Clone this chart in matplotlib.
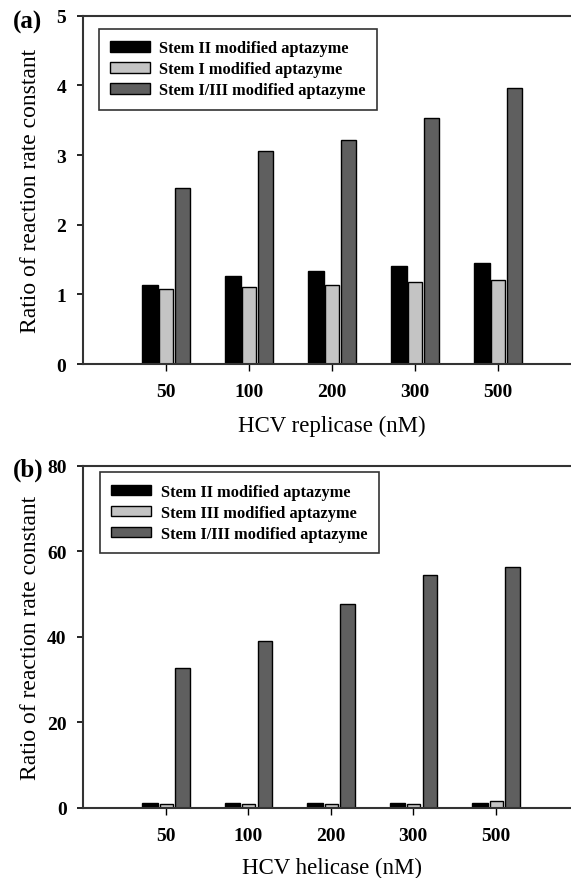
import matplotlib
matplotlib.use("Agg")
import matplotlib.pyplot as plt
import numpy as np

plt.rcParams['font.family'] = ['Liberation Serif', 'DejaVu Serif']

categories = ['50', '100', '200', '300', '500']

# Panel (a): HCV replicase
a_stem2 = [1.13, 1.26, 1.34, 1.41, 1.45]
a_stem1 = [1.07, 1.11, 1.13, 1.18, 1.21]
a_stem13 = [2.53, 3.06, 3.21, 3.53, 3.96]
a_labels = ['Stem II modified aptazyme', 'Stem I modified aptazyme', 'Stem I/III modified aptazyme']

# Panel (b): HCV helicase
b_stem2 = [1.15, 1.15, 1.15, 1.15, 1.15]
b_stem3 = [1.05, 1.05, 1.05, 1.05, 1.55]
b_stem13 = [32.6, 38.9, 47.6, 54.5, 56.3]
b_labels = ['Stem II modified aptazyme', 'Stem III modified aptazyme', 'Stem I/III modified aptazyme']

colors = ['#000000', '#c4c4c4', '#5f5f5f']
offsets = [-0.19, 0.005, 0.205]
widths = [0.19, 0.16, 0.175]

W, H = 571, 879
fig = plt.figure(figsize=(W / 100, H / 100), dpi=100)


def px(x0, y0, x1, y1):
    return [x0 / W, 1 - y1 / H, (x1 - x0) / W, (y1 - y0) / H]


def panel(rect, series, labels, ylim, yticks, xlabel, letter, ylab_center, xlab_base, leg_xy):
    ax = fig.add_axes(rect)
    x = np.arange(len(categories))
    for vals, c, off, w, lab in zip(series, colors, offsets, widths, labels):
        ax.bar(x + off, vals, width=w, color=c, edgecolor='black', linewidth=1.0, label=lab, zorder=2)
    ax.set_xlim(-1, 5)
    ax.set_ylim(*ylim)
    ax.set_yticks(yticks)
    ax.set_xticks(x)
    ax.set_xticklabels(categories)
    for lbl in ax.get_xticklabels() + ax.get_yticklabels():
        lbl.set_fontweight('bold')
        lbl.set_fontsize(14)
    ax.tick_params(axis='y', direction='out', length=4, width=1.2, pad=8)
    ax.tick_params(axis='x', direction='out', length=5, width=1.0, pad=9)
    ax.spines['right'].set_visible(False)
    for s in ['left', 'bottom', 'top']:
        ax.spines[s].set_linewidth(1.5)
        ax.spines[s].set_color('#333333')
    leg = ax.legend(loc='upper left', bbox_to_anchor=leg_xy, bbox_transform=fig.transFigure,
                    borderaxespad=0, fancybox=False, frameon=True, edgecolor='black',
                    prop={'weight': 'bold', 'size': 11.8}, handlelength=2.4, handleheight=0.6,
                    handletextpad=0.6, labelspacing=0.3, borderpad=0.7)
    leg.get_frame().set_linewidth(1.2)
    fig.text(31 / W, 1 - ylab_center / H, 'Ratio of reaction rate constant', rotation=90,
             ha='center', va='center', fontsize=17)
    fig.text((rect[0] * W + 498 / 2) / W, 1 - xlab_base / H, xlabel, ha='center', va='baseline', fontsize=16.5)
    fig.text(28 / W, 1 - letter / H, letter_text[letter], ha='center', va='center', fontsize=18, fontweight='bold')
    return ax


letter_text = {22: '(a)', 470: '(b)'}

panel(px(82.7, 16.7, 580.7, 365), [a_stem2, a_stem1, a_stem13], a_labels, (0, 5), range(0, 6),
      'HCV replicase (nM)', 22, 191, 432, (98.7 / W, 1 - 30 / H))
panel(px(83.3, 466.5, 578.3, 809), [b_stem2, b_stem3, b_stem13], b_labels, (0, 80), range(0, 81, 20),
      'HCV helicase (nM)', 470, 638, 874, (100 / W, 1 - 473.3 / H))

fig.savefig('out.png', dpi=100)
